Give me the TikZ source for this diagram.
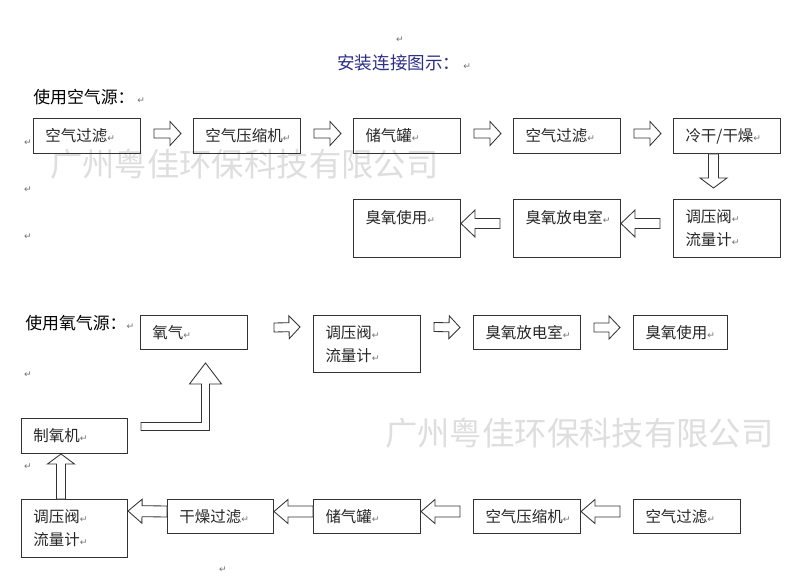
\documentclass[tikz,border=0pt]{standalone}
\usepackage{fontspec}
\usetikzlibrary{calc}
\newfontfamily\cjk{Noto Sans CJK SC}
\newfontfamily\dejavu{DejaVu Sans}
\definecolor{titleblue}{RGB}{46,46,138}
\newcommand\retmark{{\dejavu\fontsize{6.5}{6.5}\selectfont\color{black!55}↵}}
% hollow block arrow: tail, tip, head length, shaft half width, head half width (px)
\newcommand\blockarrow[5]{%
  \path ($(#2)!#3*0.025cm!(#1)$) coordinate (hb);
  \draw[hollow] ($(#1)!#4*0.025cm!90:(#2)$) -- ($(hb)!#4*0.025cm!90:(#2)$)
    -- ($(hb)!#5*0.025cm!90:(#2)$) -- (#2) -- ($(hb)!#5*0.025cm!-90:(#2)$)
    -- ($(hb)!#4*0.025cm!-90:(#2)$) -- ($(#1)!#4*0.025cm!-90:(#2)$) -- cycle;}

\begin{document}
\begin{tikzpicture}[x=0.025cm,y=-0.025cm,
  box/.style={draw=black!80,line width=0.7pt,rectangle,anchor=north west,
    inner xsep=0.3cm,inner ysep=0pt,text width=2.075cm,align=left,
    minimum height=0.875cm,text=black!85,font=\cjk\fontsize{11}{16.4}\selectfont},
  tallbox/.style={box,minimum height=1.45cm},
  hollow/.style={draw=black!80,line width=0.6pt,fill=white},
  retnode/.style={inner sep=0pt},
  wmark/.style={anchor=west,inner sep=0pt,text=black!13,font=\cjk\fontsize{23}{23}\selectfont}]
  \fill[white] (0,0) rectangle (808,584);
  \useasboundingbox (0,0) rectangle (808,584);
  %
  \node[wmark] (w1) at (50,164) {广州粤佳环保科技有限公司};
  \node[wmark] (w2) at (385,433) {广州粤佳环保科技有限公司};
  %
  \node[retnode] (r1) at (400,40) {\retmark};
  \node[anchor=west,inner sep=0pt,text=titleblue,font=\cjk\fontsize{12.5}{12.5}\selectfont] (title) at (337,63) {安装连接图示：\,\retmark};
  \node[anchor=west,inner sep=0pt,font=\cjk\fontsize{12}{12}\selectfont] (lair) at (33,97) {使用空气源：\,\retmark};
  \node[retnode] (r2) at (28,143) {\retmark};
  \node[retnode] (r3) at (28,190) {\retmark};
  \node[retnode] (r4) at (28,237) {\retmark};
  %
  \node[box] (a1) at (33,118) {空气过滤\retmark};
  \node[box] (a2) at (193,118) {空气压缩机\retmark};
  \node[box] (a3) at (353,118) {储气罐\retmark};
  \node[box] (a4) at (513,118) {空气过滤\retmark};
  \node[box] (a5) at (673,118) {冷干/干燥\retmark};
  \node[tallbox] (a6) at (673,199) {调压阀\retmark\\流量计\retmark};
  \node[tallbox] (a7) at (513,199) {臭氧放电室\retmark\\~};
  \node[tallbox] (a8) at (353,199) {臭氧使用\retmark\\~};
  %
  \coordinate (s1) at ($(a1.east)+(13,-2.5)$);
  \coordinate (e1) at ($(a2.west)+(-12,-2.5)$);
  \blockarrow{s1}{e1}{11}{4.5}{12}
  \coordinate (s2) at ($(a2.east)+(13,-2.5)$);
  \coordinate (e2) at ($(a3.west)+(-12,-2.5)$);
  \blockarrow{s2}{e2}{11}{4.5}{12}
  \coordinate (s3) at ($(a3.east)+(13,-2.5)$);
  \coordinate (e3) at ($(a4.west)+(-12,-2.5)$);
  \blockarrow{s3}{e3}{11}{4.5}{12}
  \coordinate (s4) at ($(a4.east)+(13,-2.5)$);
  \coordinate (e4) at ($(a5.west)+(-12,-2.5)$);
  \blockarrow{s4}{e4}{11}{4.5}{12}
  \coordinate (s5) at ($(a5.south)+(-13.5,0)$);
  \coordinate (e5) at ($(a6.north)+(-13.5,-11)$);
  \blockarrow{s5}{e5}{10}{5}{13.5}
  \coordinate (s6) at ($(a6.west)+(-13,-5)$);
  \coordinate (e6) at ($(a7.east)+(0,-5)$);
  \blockarrow{s6}{e6}{14}{5}{13.5}
  \coordinate (s7) at ($(a7.west)+(-13,-5)$);
  \coordinate (e7) at ($(a8.east)+(0,-5)$);
  \blockarrow{s7}{e7}{14}{5}{13.5}
  %
  \node[anchor=west,inner sep=0pt,font=\cjk\fontsize{12}{12}\selectfont] (lox) at (25,323) {使用氧气源：\retmark};
  \node[retnode] (r5) at (28,375) {\retmark};
  \node[retnode] (r6) at (28,467) {\retmark};
  \node[retnode] (r7) at (223,570) {\retmark};
  %
  \node[box,minimum height=0.85cm] (g1) at (140,315) {氧气\retmark};
  \node[tallbox,minimum height=1.425cm] (g2) at (313,315) {调压阀\retmark\\流量计\retmark};
  \node[box,minimum height=0.85cm] (g3) at (473,315) {臭氧放电室\retmark};
  \node[box,minimum height=0.85cm,text width=1.75cm] (g4) at (633,315) {臭氧使用\retmark};
  \node[box,text width=2.05cm] (m1) at (21,418) {制氧机\retmark};
  %
  \node[tallbox,text width=2.05cm] (b1) at (21,499) {调压阀\retmark\\流量计\retmark};
  \node[box,minimum height=0.85cm,text width=2.05cm] (b2) at (167,499) {干燥过滤\retmark};
  \node[box,minimum height=0.85cm] (b3) at (313,499) {储气罐\retmark};
  \node[box,minimum height=0.85cm] (b4) at (473,499) {空气压缩机\retmark};
  \node[box,minimum height=0.85cm] (b5) at (633,499) {空气过滤\retmark};
  %
  \coordinate (t1) at ($(g1.east)+(26,-5)$);
  \coordinate (p1) at ($(g2.north west)+(-13,12)$);
  \blockarrow{t1}{p1}{11}{4.5}{11.5}
  \coordinate (t2) at ($(g2.north east)+(13,12)$);
  \coordinate (p2) at ($(g3.west)+(-13,-5)$);
  \blockarrow{t2}{p2}{11}{4.5}{11.5}
  \coordinate (t3) at ($(g3.east)+(13,-5)$);
  \coordinate (p3) at ($(g4.west)+(-13,-5)$);
  \blockarrow{t3}{p3}{11}{4.5}{11.5}
  %
  \coordinate (t4) at ($(b5.west)+(-13,-5)$);
  \coordinate (p4) at ($(b4.east)+(0,-5)$);
  \blockarrow{t4}{p4}{14}{5.5}{12}
  \coordinate (t5) at ($(b4.west)+(-13,-5)$);
  \coordinate (p5) at ($(b3.east)+(0,-5)$);
  \blockarrow{t5}{p5}{14}{5.5}{12}
  \coordinate (t6) at ($(b3.west)+(0,-5)$);
  \coordinate (p6) at ($(b2.east)+(0,-5)$);
  \blockarrow{t6}{p6}{14}{5.5}{12}
  \coordinate (t7) at ($(b2.west)+(0,-5)$);
  \coordinate (p7) at ($(b1.north east)+(0,12)$);
  \blockarrow{t7}{p7}{14}{5.5}{12}
  \coordinate (t8) at ($(b1.north)+(-13.5,0)$);
  \coordinate (p8) at ($(m1.south)+(-13.5,0)$);
  \blockarrow{t8}{p8}{10}{4.5}{13.5}
  %
  \coordinate (lt) at ($(m1.east)+(13,-9.5)$);
  \coordinate (lp) at ($(g1.south)+(11.5,13)$);
  \draw[hollow] ($(lt)+(0,-4)$) -- ($(lp|-lt)+(-4,-4)$) -- ($(lp)+(-4,21)$)
    -- ($(lp)+(-16,21)$) -- (lp) -- ($(lp)+(16,21)$) -- ($(lp)+(4,21)$)
    -- ($(lp|-lt)+(4,4)$) -- ($(lt)+(0,4)$) -- cycle;
\end{tikzpicture}
\end{document}
